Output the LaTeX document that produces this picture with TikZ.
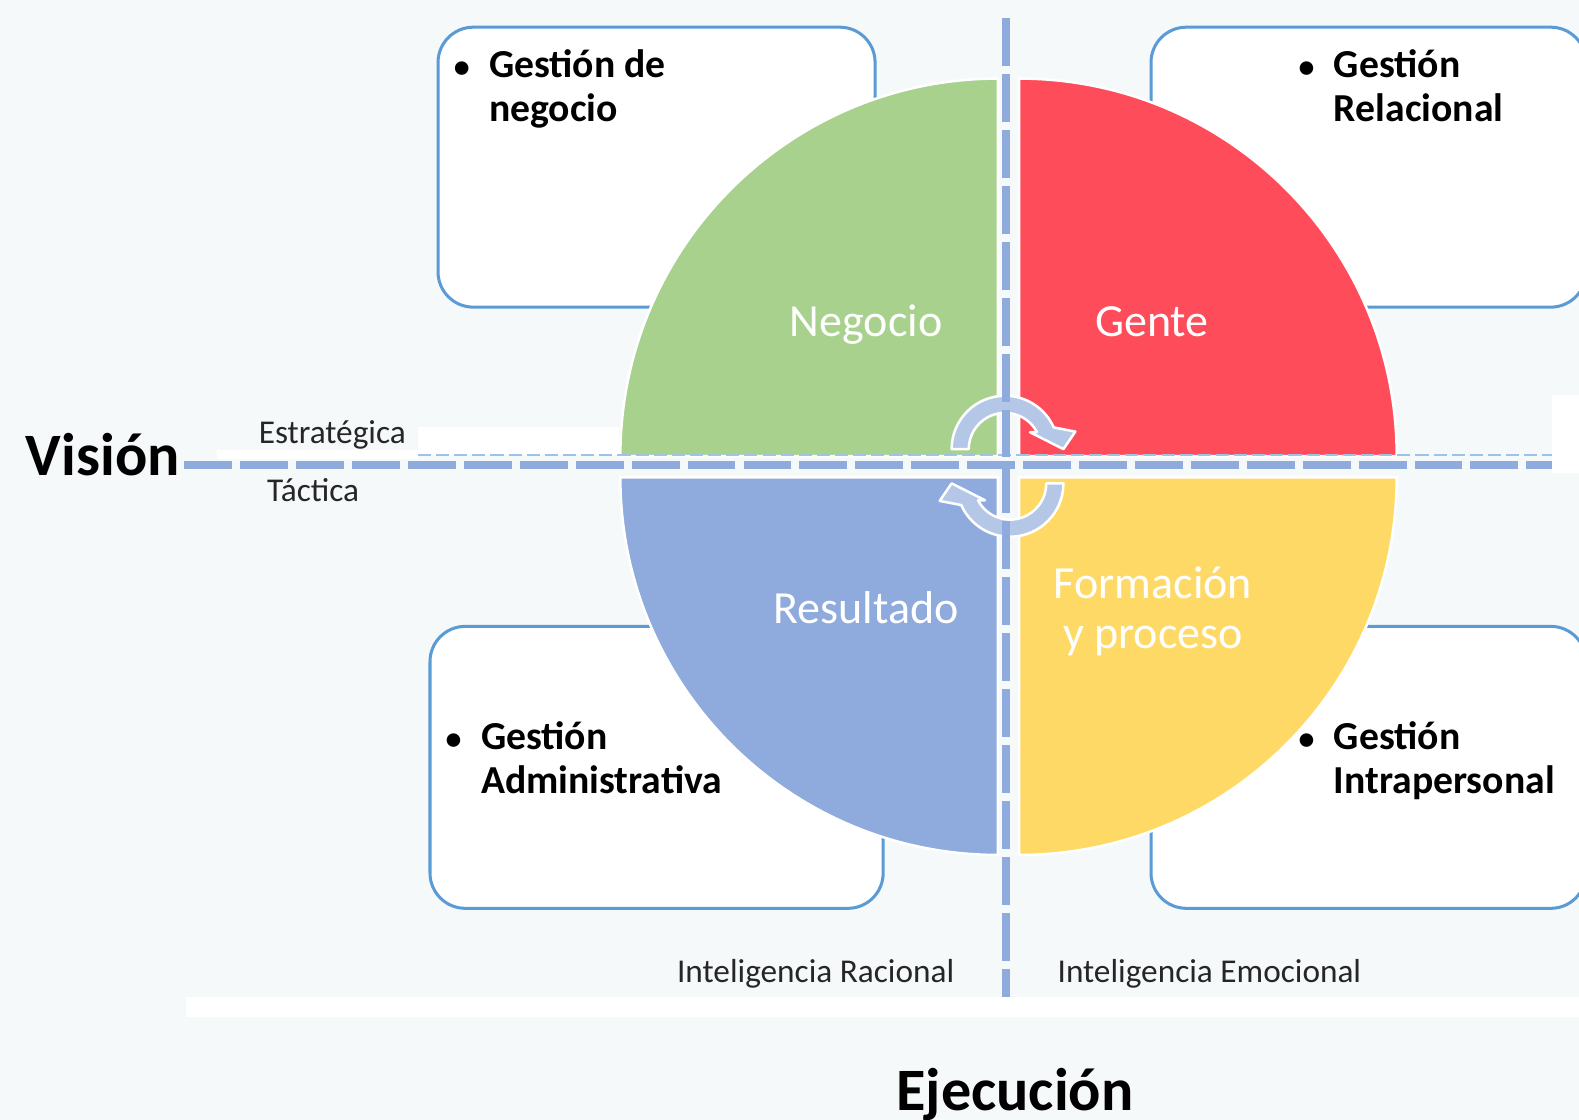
\documentclass[tikz,border=0pt]{standalone}
\usepackage{fontspec}
\setmainfont{Carlito}
\definecolor{fondo}{RGB}{246,249,250}
\definecolor{bordecaja}{RGB}{91,155,213}
\definecolor{verde}{RGB}{169,209,142}
\definecolor{rojo}{RGB}{255,76,90}
\definecolor{azul}{RGB}{143,170,220}
\definecolor{amarillo}{RGB}{255,217,102}
\definecolor{linea}{RGB}{143,170,220}
\definecolor{lineafina}{RGB}{157,195,230}
\definecolor{flecha}{RGB}{180,199,231}

\newcommand{\vineta}{\llap{{\fontsize{9}{9}\selectfont\textbullet}\hspace{5.5pt}}}

\tikzset{
  caja/.style={draw=bordecaja, line width=0.3mm, fill=white, rounded corners=3.5mm},
  cuadrante/.style={draw=white, line width=0.25mm},
  gestion/.style={anchor=base west, align=left, inner sep=0pt, font=\bfseries\fontsize{11.2}{12.5}\selectfont},
  area/.style={anchor=base, align=center, inner sep=0pt, text=white, font=\fontsize{13}{14.2}\selectfont},
  eje/.style={anchor=base, inner sep=0pt, text=black!85, font=\fontsize{9.4}{11}\selectfont},
  titulo/.style={inner sep=0pt, font=\bfseries\fontsize{17}{20}\selectfont},
  guion/.style={draw=linea, line width=0.8mm, dash pattern=on 4.75mm off 0.8mm},
  guionfino/.style={draw=lineafina, line width=0.2mm, dash pattern=on 1.3mm off 0.5mm},
  flechacirc/.style={fill=flecha, draw=white, line width=0.25mm, line join=round}
}

\begin{document}
\begin{tikzpicture}[x=0.01cm, y=-0.01cm]
\useasboundingbox (0,0) rectangle (1568,1112);
\fill[fondo] (0,0) rectangle (1568,1112);
% bandas blancas
\fill[white] (185,990) rectangle (1568,1010);
\fill[white] (215,447) rectangle (415,456);
\fill[white] (415,424) rectangle (615,452);
\fill[white] (1541,392) rectangle (1568,470);

% cajas
\draw[caja] (435,27) rectangle (869,305);
\draw[caja] (1143,27) rectangle (1575,305);
\draw[caja] (427,622) rectangle (877,902);
\draw[caja] (1143,622) rectangle (1575,902);

% cuadrantes
\filldraw[cuadrante, fill=verde] (991,453) -- (616,453) arc[start angle=180, end angle=270, radius=375] -- cycle;
\filldraw[cuadrante, fill=rojo] (1012,453) -- (1012,78) arc[start angle=270, end angle=360, radius=375] -- cycle;
\filldraw[cuadrante, fill=azul] (991,474) -- (991,849) arc[start angle=90, end angle=180, radius=375] -- cycle;
\filldraw[cuadrante, fill=amarillo] (1012,474) -- (1387,474) arc[start angle=0, end angle=90, radius=375] -- cycle;

\draw[guionfino] (415,452) -- (1541,452);

% flechas de giro
\begin{scope}[shift={(998,446)}]
\filldraw[flechacirc] (180:53) arc[start angle=180, end angle=336, radius=53] -- (346:72) -- (0:58)
  -- (326:30) -- (332:36) arc[start angle=332, end angle=180, radius=36] -- cycle;
\end{scope}
\begin{scope}[shift={(1003,480)}, rotate=180]
\filldraw[flechacirc] (180:53) arc[start angle=180, end angle=336, radius=53] -- (346:72) -- (0:58)
  -- (326:30) -- (332:36) arc[start angle=332, end angle=180, radius=36] -- cycle;
\end{scope}

% ejes
\draw[guion] (999,18) -- (999,990);
\draw[guion] (183,462) -- (1541,462);

% textos
\node[gestion] (negocio) at (485,121) {\vineta Gestión de\\negocio};
\node[gestion] (relacional) at (1324,121) {\vineta Gestión\\Relacional};
\node[gestion] (administrativa) at (477,788) {\vineta Gestión\\Administrativa};
\node[gestion] (intrapersonal) at (1324,788) {\vineta Gestión\\Intrapersonal};

\node[area] (anegocio) at (860,334) {Negocio};
\node[area] (agente) at (1144,334) {Gente};
\node[area] (aresultado) at (860,619) {Resultado};
\node[area] (aformacion) at (1145,644) {Formación\\y proceso};

\node[titulo, anchor=base west] (vision) at (25,472) {Visión};
\node[titulo, anchor=base] (ejecucion) at (1008,1103) {Ejecución};
\node[eje] (estrategica) at (330,440) {Estratégica};
\node[eje] (tactica) at (311,498) {Táctica};
\node[eje] (racional) at (810,976) {Inteligencia Racional};
\node[eje] (emocional) at (1201,976) {Inteligencia Emocional};
\end{tikzpicture}
\end{document}
